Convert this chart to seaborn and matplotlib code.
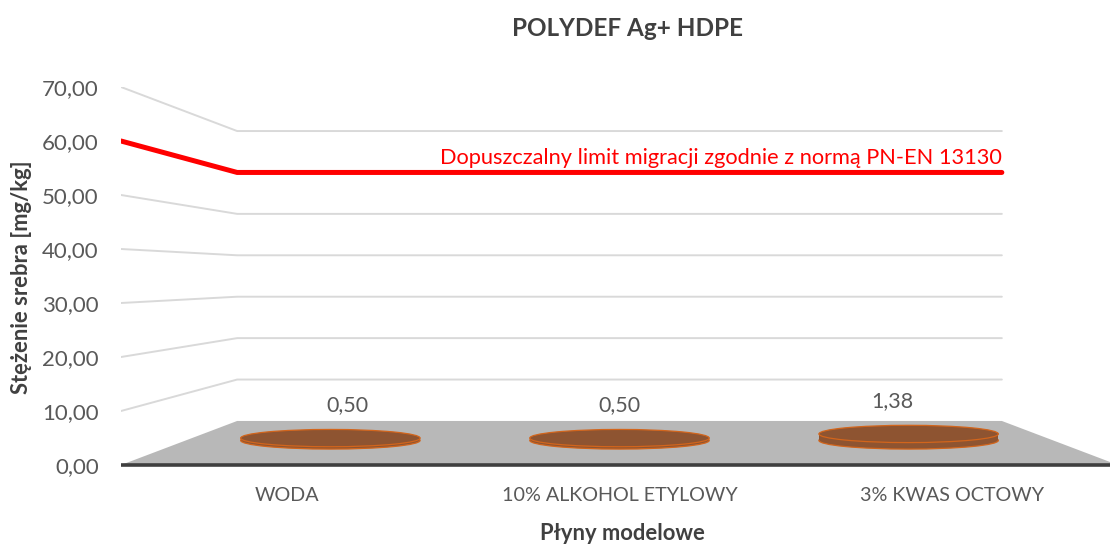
import numpy as np
import pandas as pd
import matplotlib
matplotlib.use("Agg")
import matplotlib.pyplot as plt
from matplotlib.patches import Ellipse, Polygon, Rectangle
import seaborn as sns

# ---------------- data ----------------
categories = ["WODA", "10% ALKOHOL ETYLOWY", "3% KWAS OCTOWY"]
values = [0.50, 0.50, 1.38]
value_labels = ["0,50", "0,50", "1,38"]
limit_value = 60.0
limit_text = "Dopuszczalny limit migracji zgodnie z normą PN-EN 13130"
y_ticks = [0, 10, 20, 30, 40, 50, 60, 70]
title = "POLYDEF Ag+ HDPE"
y_title = "Stężenie srebra [mg/kg]"
x_title = "Płyny modelowe"

# ---------------- style ----------------
sns.set_theme(style="white")
plt.rcParams["font.family"] = ["Lato", "DejaVu Sans"]

TICK_C = "#595959"
TITLE_C = "#404040"
GRID_C = "#d9d9d9"
FLOOR_C = "#b8b8b8"
EDGE_C = "#3f3f3f"
BAR_C = "#8e5431"
BAR_EDGE = "#d2651c"

# perspective: back plane is a scaled copy of the front plane around a vanishing point
CX, CY = 1.0, 35.0          # vanishing point in front-plane data units
S_BACK = 0.767              # scale of back wall
S_BAR = 0.87                # scale at bar depth
S_LAB = 0.82                # scale at label depth


def proj(x, v, s):
    return CX + s * (np.asarray(x, float) - CX), CY + s * (np.asarray(v, float) - CY)


fig = plt.figure(figsize=(11.10, 5.44), dpi=100)
ax = fig.add_axes([121 / 1110, (544 - 465) / 544, 997 / 1110, 378 / 544])
ax.set_xlim(-0.5, len(categories) - 0.5)
ax.set_ylim(0, 70)
for sp in ax.spines.values():
    sp.set_visible(False)

xl, xr = -0.5, len(categories) - 0.5

# gridlines (left wall + back wall)
for v in y_ticks[1:]:
    px, py = proj([xl, xl, xr], [v, v, v], np.array([1.0, S_BACK, S_BACK]))
    df = pd.DataFrame({"x": px, "y": py})
    sns.lineplot(data=df, x="x", y="y", sort=False, color=GRID_C, lw=1.4, ax=ax, zorder=1)

# floor
fx, fy = proj([xl, xl, xr, xr], [0, 0, 0, 0], np.array([1.0, S_BACK, S_BACK, 1.0]))
ax.add_patch(Polygon(np.column_stack([fx, fy]), closed=True, facecolor=FLOOR_C,
                     edgecolor="none", zorder=2))
ax.plot([xl, xr], [0, 0], color=EDGE_C, lw=2.6, zorder=3, solid_capstyle="butt",
        clip_on=False)

# bars as flat cylinders
ew = 0.54 / S_BAR          # width in front-plane units
eh = 3.2
for i, (val, lab) in enumerate(zip(values, value_labels)):
    bx, by0 = proj(i, 0, S_BAR)
    _, by1 = proj(i, val, S_BAR)
    w = ew * S_BAR
    ax.add_patch(Ellipse((bx, by0), w, eh, facecolor=BAR_C, edgecolor=BAR_EDGE,
                         lw=0.9, zorder=4))
    ax.add_patch(Rectangle((bx - w / 2, by0), w, by1 - by0, facecolor=BAR_C,
                           edgecolor="none", zorder=4))
    ax.add_patch(Ellipse((bx, by1), w, eh, facecolor=BAR_C, edgecolor=BAR_EDGE,
                         lw=0.9, zorder=5))
    lx, ly = proj(i, val, S_LAB)
    ax.annotate(lab, (lx, ly), xytext=(0, 17), textcoords="offset points",
                ha="center", va="center", fontsize=15.5, color=TICK_C, zorder=6)

# limit line
px, py = proj([xl, xl, xr], [limit_value] * 3, np.array([1.0, S_BACK, S_BACK]))
df = pd.DataFrame({"x": px, "y": py})
sns.lineplot(data=df, x="x", y="y", sort=False, color="#ff0000", lw=3.6, ax=ax, zorder=7)
ax.lines[-1].set_solid_joinstyle("miter")
ax.annotate(limit_text, (px[-1], py[-1]), xytext=(0, 6), textcoords="offset points",
            ha="right", va="baseline", fontsize=15.7, color="#ff0000", zorder=8)

# axes ticks
ax.set_yticks(y_ticks)
ax.set_yticklabels([f"{t:.2f}".replace(".", ",") for t in y_ticks])
ax.set_xticks(range(len(categories)))
ax.set_xticklabels(categories)
ax.tick_params(axis="y", length=0, pad=16, labelsize=16, labelcolor=TICK_C)
ax.tick_params(axis="x", length=0, pad=16, labelsize=14.2, labelcolor=TICK_C)
ax.set_xlabel("")
ax.set_ylabel("")
ax.grid(False)

fig.text(627 / 1110, 1 - 28 / 544, title, ha="center", va="center", fontsize=17.5,
         fontweight="bold", color=TITLE_C)
fig.text(22 / 1110, 1 - 277 / 544, y_title, ha="center", va="center", rotation=90,
         fontsize=15.8, fontweight="bold", color=TITLE_C)
fig.text(622 / 1110, 1 - 533 / 544, x_title, ha="center", va="center", fontsize=15.8,
         fontweight="bold", color=TITLE_C)

fig.savefig("out.png", dpi=100)
